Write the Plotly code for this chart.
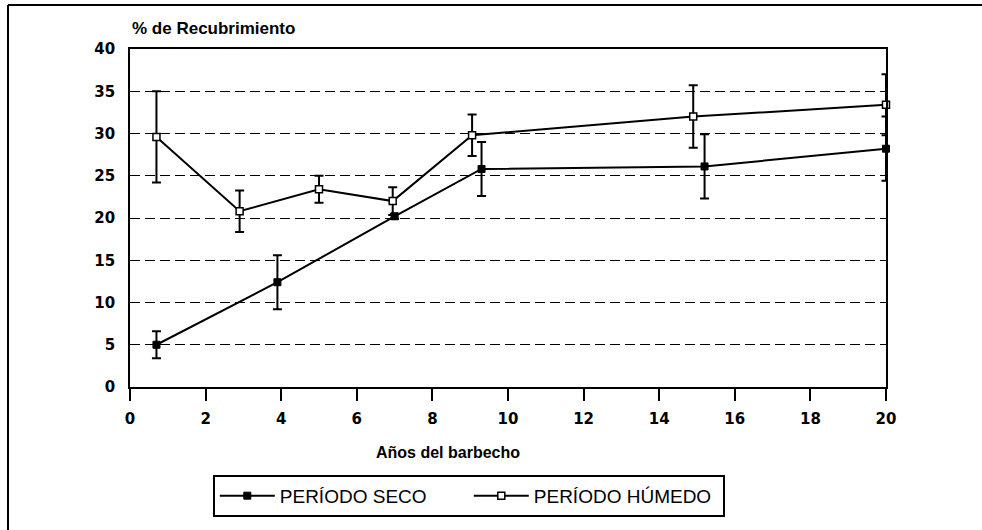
import plotly.graph_objects as go

# ---- data ----
seco_x = [0.7, 3.9, 7.0, 9.3, 15.2, 20.0]
seco_y = [5.0, 12.4, 20.2, 25.8, 26.1, 28.2]
seco_err = [1.6, 3.2, 0.3, 3.2, 3.8, 3.8]

humedo_x = [0.7, 2.9, 5.0, 6.95, 9.05, 14.9, 20.0]
humedo_y = [29.6, 20.8, 23.4, 22.0, 29.8, 32.0, 33.4]
humedo_err = [5.4, 2.45, 1.6, 1.65, 2.45, 3.7, 3.6]

x_ticks = [0, 2, 4, 6, 8, 10, 12, 14, 16, 18, 20]
y_ticks = [0, 5, 10, 15, 20, 25, 30, 35, 40]

y_title = "% de Recubrimiento"
x_title = "Años del barbecho"
name_seco = "PERÍODO SECO"
name_humedo = "PERÍODO HÚMEDO"

# ---- layout geometry (pixels) ----
W, H = 982, 530
L, R, T, B = 130, 886, 49, 387
pw, ph = R - L, B - T


def px_x(p):
    return (p - L) / pw


def px_y(p):
    return (B - p) / ph


fig = go.Figure()

fig.add_trace(go.Scatter(
    x=seco_x, y=seco_y, name=name_seco, mode="lines+markers",
    line=dict(color="black", width=2),
    marker=dict(symbol="square", size=7, color="black",
                line=dict(color="black", width=1)),
    error_y=dict(type="data", array=seco_err, visible=True,
                 color="black", thickness=2, width=4.5),
    cliponaxis=False,
))

fig.add_trace(go.Scatter(
    x=humedo_x, y=humedo_y, name=name_humedo, mode="lines+markers",
    line=dict(color="black", width=2),
    marker=dict(symbol="square", size=7, color="white",
                line=dict(color="black", width=1.5)),
    error_y=dict(type="data", array=humedo_err, visible=True,
                 color="black", thickness=2, width=4.5),
    cliponaxis=False,
))

tick_font = dict(family="DejaVu Sans", size=15, color="black", weight="bold")

fig.update_xaxes(
    range=[0, 20], tickvals=x_ticks, ticktext=[str(v) for v in x_ticks],
    showline=True, mirror=True, linecolor="black", linewidth=1.8,
    ticks="outside", ticklen=12, tickwidth=1.8, tickcolor="black",
    showgrid=False, zeroline=False, tickfont=tick_font,
    ticklabelstandoff=5,
)
fig.update_yaxes(
    range=[0, 40], tickvals=y_ticks, ticktext=[str(v) for v in y_ticks],
    showline=True, mirror=True, linecolor="black", linewidth=1.8,
    ticks="", showgrid=True, gridcolor="black", gridwidth=1.4,
    griddash="10px,5px", zeroline=False, tickfont=tick_font,
    ticklabelstandoff=10,
)

fig.update_layout(
    width=W, height=H,
    margin=dict(l=L, r=W - R, t=T, b=H - B, pad=0),
    paper_bgcolor="white", plot_bgcolor="white",
    font=dict(family="Liberation Sans", color="black"),
    showlegend=True,
    legend=dict(
        orientation="h", x=px_x(469), xanchor="center",
        y=px_y(496), yanchor="middle",
        bordercolor="black", borderwidth=1.8, bgcolor="white",
        font=dict(family="Liberation Sans", size=19, color="black"),
        itemwidth=55,
        entrywidth=184, entrywidthmode="pixels",
    ),
    annotations=[
        dict(text=y_title, xref="paper", yref="paper",
             x=px_x(130), y=px_y(28), xanchor="left", yanchor="middle",
             showarrow=False,
             font=dict(family="Liberation Sans", size=17, weight="bold")),
        dict(text=x_title, xref="paper", yref="paper",
             x=px_x(448), y=px_y(452), xanchor="center", yanchor="middle",
             showarrow=False,
             font=dict(family="Liberation Sans", size=16, weight="bold")),
    ],
    shapes=[
        dict(type="line", xref="paper", yref="paper",
             x0=px_x(8), y0=px_y(5), x1=px_x(982), y1=px_y(5),
             line=dict(color="black", width=2)),
        dict(type="line", xref="paper", yref="paper",
             x0=px_x(8), y0=px_y(5), x1=px_x(8), y1=px_y(530),
             line=dict(color="black", width=2)),
    ],
)

fig.write_html("out.html")
